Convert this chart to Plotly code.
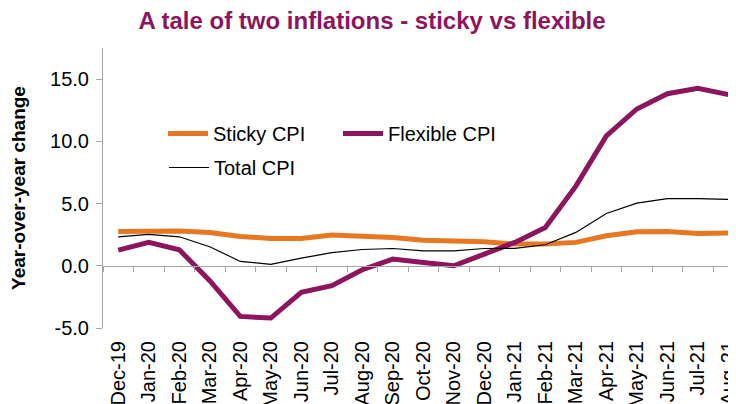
import plotly.graph_objects as go

months = ["Dec-19", "Jan-20", "Feb-20", "Mar-20", "Apr-20", "May-20", "Jun-20",
          "Jul-20", "Aug-20", "Sep-20", "Oct-20", "Nov-20", "Dec-20", "Jan-21",
          "Feb-21", "Mar-21", "Apr-21", "May-21", "Jun-21", "Jul-21", "Aug-21"]

sticky_cpi = [2.76, 2.80, 2.79, 2.68, 2.36, 2.20, 2.20, 2.47, 2.41, 2.28, 2.06,
              2.00, 1.93, 1.74, 1.74, 1.88, 2.41, 2.73, 2.76, 2.60, 2.63]
flexible_cpi = [1.26, 1.88, 1.29, -1.20, -4.07, -4.20, -2.14, -1.60, -0.32, 0.54,
                0.27, 0.00, 0.94, 1.88, 3.08, 6.40, 10.43, 12.60, 13.83, 14.26, 13.75]
total_cpi = [2.33, 2.52, 2.33, 1.53, 0.35, 0.12, 0.62, 1.05, 1.31, 1.39, 1.20,
             1.20, 1.39, 1.40, 1.69, 2.68, 4.20, 5.04, 5.40, 5.40, 5.33]

y_ticks = [-5, 0, 5, 10, 15]
y_ticktext = ["-5.0", "0.0", "5.0", "10.0", "15.0"]

ORANGE = "#E87722"
PURPLE = "#8C155E"
FONT = "Liberation Sans, Arial, sans-serif"

fig = go.Figure()
fig.add_trace(go.Scatter(x=months, y=sticky_cpi, mode="lines", name="Sticky CPI",
                         line=dict(color=ORANGE, width=5), legend="legend"))
fig.add_trace(go.Scatter(x=months, y=flexible_cpi, mode="lines", name="Flexible CPI",
                         line=dict(color=PURPLE, width=5), legend="legend2"))
fig.add_trace(go.Scatter(x=months, y=total_cpi, mode="lines", name="Total CPI",
                         line=dict(color="black", width=1.2), legend="legend3"))
# invisible trace to carry the zero-line category axis
fig.add_trace(go.Scatter(x=months, y=[None] * len(months), xaxis="x2",
                         showlegend=False, hoverinfo="skip", mode="lines"))

xr = [-0.5, 20.25]
yr = [-5, 17.5]
zero_pos = (0 - yr[0]) / (yr[1] - yr[0])

# the page body adds an 8px margin; layout coords are page coords minus 8
OFF = 8
W, H = 736, 404
PLOT_TOP, PLOT_BOTTOM, PLOT_LEFT, PLOT_RIGHT = 48 - OFF, 328 - OFF, 103 - OFF, 736 - OFF


def py(page_y):
    return (PLOT_BOTTOM - (page_y - OFF)) / (PLOT_BOTTOM - PLOT_TOP)


def px(page_x):
    return ((page_x - OFF) - PLOT_LEFT) / (PLOT_RIGHT - PLOT_LEFT)


legend_common = dict(orientation="h", bgcolor="rgba(0,0,0,0)",
                     font=dict(family=FONT, size=20, color="black"),
                     xanchor="left", yanchor="middle", itemwidth=40)

fig.update_layout(
    width=W, height=H,
    margin=dict(l=PLOT_LEFT, r=W - PLOT_RIGHT, t=PLOT_TOP, b=H - PLOT_BOTTOM,
                autoexpand=False),
    plot_bgcolor="white", paper_bgcolor="white",
    font=dict(family=FONT, size=20, color="black"),
    title=dict(text="<b>A tale of two inflations - sticky vs flexible</b>",
               x=(372 - OFF) / W, xanchor="center", xref="container",
               y=1 - (21 - OFF) / H, yanchor="middle", yref="container",
               font=dict(family=FONT, size=24, color=PURPLE)),
    xaxis=dict(type="category", categoryarray=months, range=xr, automargin=False,
               showline=False, ticks="", showgrid=False, zeroline=False,
               tickangle=-90, ticklabelstandoff=8,
               tickfont=dict(family=FONT, size=20, color="black")),
    xaxis2=dict(type="category", categoryarray=months, range=xr,
                overlaying="x", anchor="free", position=zero_pos, automargin=False,
                showline=True, linecolor="#A6A6A6", linewidth=1,
                ticks="outside", tickson="boundaries", ticklen=5,
                tickcolor="#A6A6A6", showticklabels=False, showgrid=False,
                zeroline=False),
    yaxis=dict(range=yr, tickvals=y_ticks, ticktext=y_ticktext, automargin=False,
               showline=True, linecolor="#A6A6A6", linewidth=1,
               ticks="outside", ticklen=6, tickcolor="#A6A6A6",
               ticklabelstandoff=3,
               showgrid=False, zeroline=False,
               tickfont=dict(family=FONT, size=20, color="black"),
               title=dict(text="<b>Year-over-year change</b>", standoff=20,
                          font=dict(family=FONT, size=19, color="black"))),
    legend=dict(x=px(163), y=py(133.5), **legend_common),
    legend2=dict(x=px(338), y=py(133.5), **legend_common),
    legend3=dict(x=px(164), y=py(167.5), **legend_common),
)

fig.write_html("out.html")
